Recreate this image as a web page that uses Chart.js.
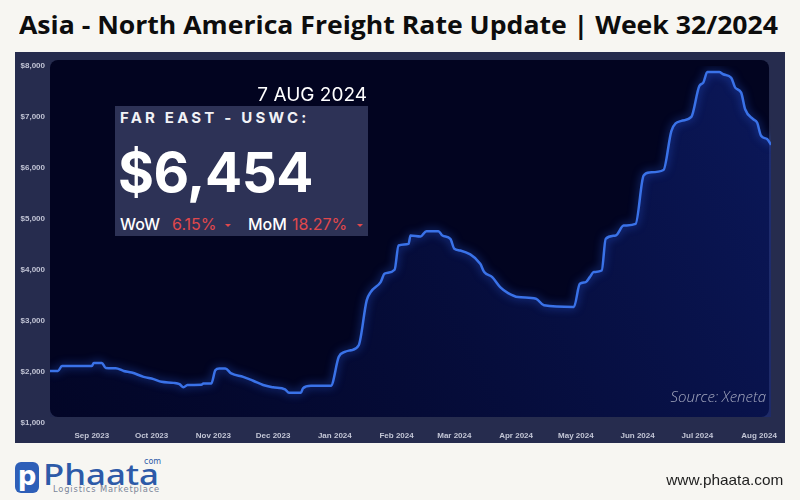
<!DOCTYPE html>
<html>
<head>
<meta charset="utf-8">
<script src="https://cdn.jsdelivr.net/npm/chart.js@4.4.1/dist/chart.umd.min.js"></script>
<style>
    body { margin: 0; width: 800px; height: 500px; overflow: hidden; background: #f7f6f2; position: relative; }
    .abs { position: absolute; white-space: nowrap; }
    #title { left: 19px; top: 12px; font: 700 25px/25px "Open Sans", sans-serif; color: #0d0d0d; transform-origin: 0 0; }
    #panel { left: 15px; top: 52px; width: 770px; height: 391px; background: #262c4e; }
    #box { left: 115px; top: 106px; width: 253px; height: 130px; background: #2d3256; }
    #date { right: 433px; top: 85px; font: 400 19px/19px Inter, sans-serif; color: #ffffff; }
    #lane { left: 120px; top: 110px; font: 700 15px/15px Inter, sans-serif; color: #f2f2f6; letter-spacing: 3.2px; }
    #rate { left: 118px; top: 145px; font: 700 55px/55px Inter, sans-serif; color: #ffffff; letter-spacing: -0.5px; }
    .chg { top: 216px; font: 400 16px/16px Inter, sans-serif; }
    .lbl { color: #ffffff; font-weight: 500; }
    .red { color: #e0484c; }
    .caret { width: 0; height: 0; border-left: 3px solid transparent; border-right: 3px solid transparent; border-top: 3px solid #e0484c; top: 224px; }
    #source { right: 34px; top: 389px; font: italic 300 15px/15px "Open Sans", sans-serif; color: #a6aac0; }
    #icon { left: 15px; top: 462px; width: 24px; height: 31px; border-radius: 6px; background: #2e5fb8; color: #fff; font: 700 26px/28px "DejaVu Sans", sans-serif; text-align: center; }
    #brand { left: 43px; top: 459px; font: 500 29px/29px "Noto Sans", sans-serif; color: #2d5aa8; transform-origin: 0 0; }
    #dotcom { left: 144px; top: 458px; font: 400 8px/8px "DejaVu Sans", sans-serif; color: #2d5aa8; }
    #tagline { left: 53px; top: 486px; font: 400 8px/8px "DejaVu Sans", sans-serif; color: #7b8598; letter-spacing: 0.8px; transform-origin: 0 0; }
    #site { right: 17px; top: 472px; font: 400 15px/15px "Liberation Sans", sans-serif; color: #1e1e1e; transform-origin: 100% 0; }
</style>
</head>
<body>
<div id="title" class="abs">Asia - North America Freight Rate Update | Week 32/2024</div>
<div id="panel" class="abs"><canvas id="chart" width="770" height="391"></canvas></div>

<div id="date" class="abs">7 AUG 2024</div>
<div id="box" class="abs"></div>
<div id="lane" class="abs">FAR EAST - USWC:</div>
<div id="rate" class="abs">$6,454</div>
<div class="abs chg lbl" style="left:120px">WoW</div>
<div class="abs chg red" style="left:172px">6.15%</div>
<div class="abs caret" style="left:225px"></div>
<div class="abs chg lbl" style="left:248px">MoM</div>
<div class="abs chg red" style="left:292px">18.27%</div>
<div class="abs caret" style="left:357px"></div>
<div id="source" class="abs">Source: Xeneta</div>

<div id="icon" class="abs">p</div>
<div id="brand" class="abs">Phaata</div>
<div id="dotcom" class="abs">com</div>
<div id="tagline" class="abs">Logistics Marketplace</div>
<div id="site" class="abs">www.phaata.com</div>

<script>
// Far East - USWC spot rate (USD per FEU)
const dates = [
    "2023-08-11", "2023-08-15", "2023-08-17", "2023-08-23", "2023-09-01", "2023-09-02", "2023-09-06", "2023-09-08",
    "2023-09-13", "2023-09-17", "2023-09-21", "2023-09-27", "2023-10-02", "2023-10-06", "2023-10-12", "2023-10-15",
    "2023-10-17", "2023-10-19", "2023-10-26", "2023-10-27", "2023-10-31", "2023-11-02", "2023-11-04", "2023-11-07",
    "2023-11-10", "2023-11-16", "2023-11-21", "2023-11-26", "2023-12-01", "2023-12-07", "2023-12-09", "2023-12-15",
    "2023-12-16", "2023-12-20", "2023-12-30", "2024-01-03", "2024-01-06", "2024-01-09", "2024-01-13", "2024-01-17",
    "2024-01-19", "2024-01-24", "2024-01-26", "2024-01-31", "2024-02-02", "2024-02-07", "2024-02-08", "2024-02-13",
    "2024-02-16", "2024-02-22", "2024-02-24", "2024-02-28", "2024-03-01", "2024-03-04", "2024-03-14", "2024-03-16",
    "2024-03-20", "2024-03-24", "2024-03-28", "2024-04-02", "2024-04-11", "2024-04-15", "2024-04-30", "2024-05-03",
    "2024-05-06", "2024-05-08", "2024-05-10", "2024-05-14", "2024-05-16", "2024-05-21", "2024-05-25", "2024-05-31",
    "2024-06-04", "2024-06-07", "2024-06-14", "2024-06-18", "2024-06-23", "2024-06-28", "2024-07-02", "2024-07-04",
    "2024-07-06", "2024-07-12", "2024-07-14", "2024-07-18", "2024-07-20", "2024-07-23", "2024-07-25", "2024-07-29",
    "2024-07-31", "2024-08-02", "2024-08-05", "2024-08-07"
];
const rates = [
    2020, 2020, 2117, 2117, 2120, 2178, 2178, 2080,
    2075, 2020, 1990, 1905, 1860, 1808, 1787, 1760,
    1700, 1745, 1750, 1776, 1776, 2035, 2070, 2070,
    1972, 1905, 1828, 1745, 1700, 1660, 1594, 1594,
    1680, 1729, 1729, 2297, 2394, 2427, 2525, 3405,
    3567, 3763, 3927, 4005, 4480, 4513, 4676, 4656,
    4762, 4762, 4676, 4611, 4416, 4383, 4122, 3960,
    3860, 3665, 3548, 3470, 3437, 3307, 3274, 3730,
    3763, 3860, 3960, 3991, 4611, 4676, 4871, 4904,
    5849, 5914, 5961, 6729, 6924, 7003, 7609, 7674,
    7883, 7883, 7838, 7771, 7576, 7478, 7153, 6958,
    6891, 6631, 6567, 6454
];
const monthTicks = ["2023-09-01", "2023-10-01", "2023-11-01", "2023-12-01", "2024-01-01", "2024-02-01",
    "2024-03-01", "2024-04-01", "2024-05-01", "2024-06-01", "2024-07-01", "2024-08-01"];
const monthLabels = ["Sep 2023", "Oct 2023", "Nov 2023", "Dec 2023", "Jan 2024", "Feb 2024",
    "Mar 2024", "Apr 2024", "May 2024", "Jun 2024", "Jul 2024", "Aug 2024"];
const yTicks = [1000, 2000, 3000, 4000, 5000, 6000, 7000, 8000];

const dayNum = s => Date.parse(s + "T00:00:00Z") / 86400000;

// squeeze/stretch a text block to the width it has in the picture
function fitWidth(id, w) {
    const el = document.getElementById(id);
    const cur = el.getBoundingClientRect().width;
    if (cur > 0) el.style.transform = `scaleX(${w / cur})`;
}
fitWidth("title", 759);
fitWidth("brand", 116);
fitWidth("tagline", 107);
fitWidth("site", 117);

// dark rounded plot background, slightly above the axis range like the original
function plotRect(chart) {
    const a = chart.chartArea;
    return { x: a.left, y: a.top - 6, w: a.right - a.left - 2, h: a.bottom - a.top };
}
const plotBackground = {
    id: "plotBackground",
    beforeDraw(chart) {
        const ctx = chart.ctx, r = plotRect(chart);
        ctx.save();
        ctx.fillStyle = "#020420";
        ctx.beginPath();
        ctx.roundRect(r.x, r.y, r.w, r.h, 8);
        ctx.fill();
        ctx.restore();
    },
    beforeDatasetsDraw(chart) {
        const ctx = chart.ctx, r = plotRect(chart);
        ctx.save();
        ctx.beginPath();
        ctx.rect(r.x - 2, r.y, r.w + 6, r.h);
        ctx.clip();
    },
    beforeDatasetDraw(chart) {
        chart.ctx.shadowColor = "rgba(50, 110, 255, 0.7)";
        chart.ctx.shadowBlur = 8;
    },
    afterDatasetsDraw(chart) {
        chart.ctx.restore();
    }
};

const tickFont = { family: "Liberation Sans", weight: "bold", size: 8 };

const canvas = document.getElementById("chart");
new Chart(canvas.getContext("2d"), {
    type: "line",
    data: {
        datasets: [{
            data: dates.map((d, i) => ({ x: dayNum(d), y: rates[i] })),
            borderColor: "#3a72e8",
            borderWidth: 2.5,
            pointRadius: 0,
            tension: 0.15,
            cubicInterpolationMode: "monotone",
            fill: "start",
            backgroundColor: (c) => {
                const a = c.chart.chartArea;
                if (!a) return "transparent";
                const g = c.chart.ctx.createLinearGradient(a.left, a.bottom, a.right, a.top);
                g.addColorStop(0, "rgba(8, 20, 90, 0.12)");
                g.addColorStop(1, "rgba(22, 48, 160, 0.45)");
                return g;
            }
        }]
    },
    options: {
        responsive: false,
        animation: false,
        layout: { padding: { top: 14, right: 8, left: 0, bottom: 0 } },
        plugins: { legend: { display: false }, tooltip: { enabled: false } },
        scales: {
            x: {
                type: "linear",
                min: dayNum(dates[0]),
                max: dayNum(dates[dates.length - 1]),
                grid: { display: false, drawTicks: false },
                border: { display: false },
                afterBuildTicks: (s) => { s.ticks = monthTicks.map(m => ({ value: dayNum(m) })); },
                afterFit: (s) => { s.height = 20; },
                ticks: {
                    autoSkip: false, maxRotation: 0, padding: 8,
                    color: "#c3c6d6", font: tickFont,
                    callback: (v, i) => monthLabels[i]
                }
            },
            y: {
                min: 1000,
                max: 8000,
                grid: { display: false, drawTicks: false },
                border: { display: false },
                afterBuildTicks: (s) => { s.ticks = yTicks.map(v => ({ value: v })); },
                afterFit: (s) => { s.width = 35; },
                ticks: {
                    padding: 5, color: "#c0c3d4", font: tickFont,
                    callback: (v) => "$" + v.toLocaleString("en-US")
                }
            }
        }
    },
    plugins: [plotBackground]
});
</script>
</body>
</html>
